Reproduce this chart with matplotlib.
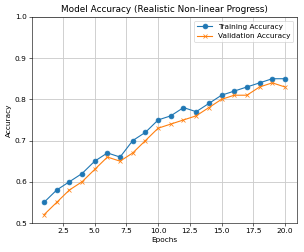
import matplotlib
matplotlib.use("Agg")
import matplotlib.pyplot as plt

epochs = list(range(1, 21))
train_acc = [0.55, 0.58, 0.60, 0.62, 0.65, 0.67, 0.66, 0.70, 0.72, 0.75,
             0.76, 0.78, 0.77, 0.79, 0.81, 0.82, 0.83, 0.84, 0.85, 0.85]
val_acc = [0.52, 0.55, 0.58, 0.60, 0.63, 0.66, 0.65, 0.67, 0.70, 0.73,
           0.74, 0.75, 0.76, 0.78, 0.80, 0.81, 0.81, 0.83, 0.84, 0.83]

DPI = 53
fig = plt.figure(figsize=(304 / DPI, 252 / DPI), dpi=DPI)
ax = fig.add_axes([0.105, 0.115, 0.872, 0.818])
ax.plot(epochs, train_acc, marker='o', markersize=6.5, label='Training Accuracy')
ax.plot(epochs, val_acc, marker='x', markersize=6.5, label='Validation Accuracy')
ax.set_ylim(0.5, 1.0)
ax.set_yticks([0.5, 0.6, 0.7, 0.8, 0.9, 1.0])
ax.set_xticks([2.5, 5.0, 7.5, 10.0, 12.5, 15.0, 17.5, 20.0])
ax.set_title('Model Accuracy (Realistic Non-linear Progress)')
ax.set_xlabel('Epochs')
ax.set_ylabel('Accuracy')
ax.grid(True, color='#cccccc', linewidth=1.2)
ax.legend(loc='upper right')
fig.savefig('out.png', dpi=DPI)
